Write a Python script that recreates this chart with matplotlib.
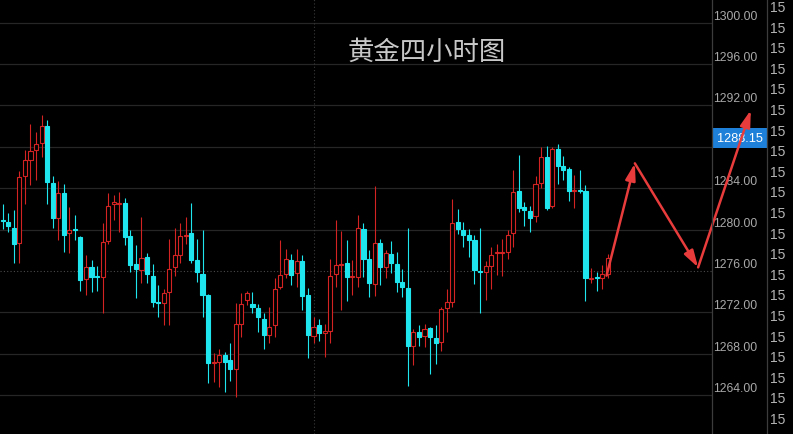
import matplotlib
matplotlib.use("Agg")
import matplotlib.pyplot as plt
import matplotlib.transforms as mtransforms
from matplotlib.patches import Rectangle

plt.rcParams["font.family"] = ["Noto Sans CJK SC", "DejaVu Sans"]

# 4-hour gold candles
opens = [1280.9, 1280.7, 1280.2, 1278.7, 1285.2, 1286.7, 1287.7, 1288.4, 1290.0, 1284.5,
         1281.1, 1283.5, 1279.7, 1280.1, 1279.3, 1275.2, 1276.4, 1275.5, 1275.4, 1278.9,
         1282.5, 1282.5, 1282.6, 1279.4, 1276.7, 1276.1, 1277.4, 1275.5, 1273.0, 1272.9,
         1274.0, 1276.4, 1277.5, 1279.4, 1279.7, 1277.1, 1275.7, 1273.7, 1267.1, 1267.2,
         1267.9, 1267.4, 1266.5, 1270.9, 1273.2, 1272.8, 1272.4, 1271.4, 1269.8, 1270.8,
         1274.5, 1275.7, 1277.1, 1275.8, 1277.0, 1273.7, 1269.7, 1270.8, 1270.0, 1270.2,
         1275.7, 1276.6, 1276.8, 1275.4, 1275.4, 1280.1, 1277.2, 1274.7, 1278.7, 1276.4,
         1277.6, 1276.7, 1274.9, 1274.4, 1268.8, 1270.1, 1269.7, 1270.5, 1269.5, 1269.1,
         1272.4, 1273.0, 1280.7, 1280.0, 1279.5, 1279.0, 1276.0, 1275.9, 1276.5, 1277.7,
         1277.7, 1277.8, 1279.7, 1283.7, 1282.2, 1281.8, 1281.3, 1284.5, 1287.0, 1282.3,
         1287.8, 1286.1, 1285.9, 1283.7, 1283.8, 1283.7, 1275.2, 1275.4, 1275.3, 1275.7]
highs = [1282.5, 1281.6, 1281.9, 1285.7, 1287.7, 1290.2, 1289.4, 1291.1, 1290.6, 1285.2,
         1284.7, 1284.4, 1282.2, 1281.4, 1279.4, 1277.5, 1277.1, 1276.5, 1280.6, 1283.5,
         1283.3, 1283.6, 1283.1, 1280.0, 1278.5, 1281.2, 1277.7, 1276.7, 1274.6, 1274.3,
         1279.1, 1280.2, 1280.6, 1281.2, 1282.6, 1279.1, 1280.0, 1273.8, 1268.1, 1268.5,
         1268.2, 1269.0, 1272.9, 1273.9, 1274.1, 1274.0, 1272.8, 1271.9, 1272.5, 1275.3,
         1279.0, 1278.1, 1277.6, 1278.1, 1277.5, 1274.4, 1271.6, 1271.4, 1270.9, 1277.2,
         1280.9, 1279.9, 1279.0, 1277.1, 1281.4, 1280.6, 1278.0, 1284.2, 1279.1, 1278.0,
         1278.9, 1277.8, 1276.2, 1280.2, 1270.4, 1270.8, 1270.9, 1270.6, 1270.8, 1272.5,
         1274.3, 1283.0, 1282.0, 1280.7, 1280.1, 1279.5, 1280.2, 1277.0, 1278.3, 1278.6,
         1279.1, 1280.0, 1285.8, 1287.2, 1282.7, 1282.3, 1285.2, 1288.0, 1288.1, 1288.0,
         1288.3, 1287.1, 1286.0, 1285.3, 1285.8, 1284.3, 1276.3, 1275.9, 1276.6, 1277.6]
lows = [1280.1, 1279.8, 1276.8, 1276.8, 1282.5, 1284.3, 1284.8, 1287.0, 1282.5, 1280.2,
        1279.0, 1277.8, 1277.7, 1279.0, 1274.1, 1273.7, 1274.0, 1274.1, 1271.9, 1278.6,
        1280.9, 1279.8, 1278.5, 1275.9, 1273.4, 1274.8, 1274.8, 1272.5, 1271.6, 1270.8,
        1270.8, 1275.5, 1276.8, 1278.6, 1276.8, 1274.9, 1271.6, 1265.2, 1265.3, 1264.8,
        1264.3, 1265.4, 1263.8, 1269.6, 1272.7, 1271.9, 1270.1, 1268.5, 1269.0, 1269.6,
        1274.3, 1275.3, 1274.6, 1274.5, 1272.2, 1267.6, 1269.0, 1269.2, 1267.7, 1269.0,
        1274.5, 1272.2, 1273.1, 1273.7, 1274.5, 1275.4, 1273.5, 1273.6, 1274.6, 1275.3,
        1275.8, 1274.0, 1273.5, 1264.9, 1266.9, 1268.8, 1268.7, 1266.0, 1267.0, 1268.3,
        1270.1, 1272.5, 1279.6, 1278.3, 1277.4, 1274.7, 1271.9, 1273.2, 1274.3, 1275.6,
        1275.5, 1277.2, 1278.3, 1281.7, 1280.3, 1279.8, 1280.7, 1284.0, 1281.9, 1282.1,
        1284.4, 1284.8, 1282.8, 1282.1, 1283.5, 1273.1, 1274.8, 1274.1, 1274.3, 1275.3]
closes = [1280.8, 1280.3, 1278.6, 1285.1, 1286.7, 1287.6, 1288.3, 1290.0, 1284.6, 1281.1,
          1283.5, 1279.5, 1280.0, 1280.0, 1275.1, 1276.4, 1275.4, 1275.4, 1278.8, 1282.3,
          1282.7, 1282.6, 1279.3, 1276.6, 1276.2, 1277.3, 1275.7, 1273.0, 1272.9, 1273.9,
          1276.2, 1277.5, 1279.4, 1279.5, 1277.1, 1275.9, 1273.7, 1267.1, 1267.2, 1267.9,
          1267.2, 1266.5, 1270.9, 1272.8, 1273.9, 1272.5, 1271.6, 1269.8, 1270.6, 1274.3,
          1275.6, 1277.2, 1275.6, 1277.0, 1273.6, 1269.8, 1270.6, 1270.0, 1270.2, 1275.5,
          1276.6, 1276.7, 1275.4, 1275.5, 1280.2, 1277.2, 1274.8, 1278.7, 1276.4, 1277.7,
          1276.8, 1274.9, 1274.5, 1268.8, 1270.1, 1269.6, 1270.4, 1269.6, 1269.0, 1272.3,
          1273.0, 1280.6, 1280.1, 1279.5, 1279.0, 1276.1, 1275.9, 1276.5, 1277.5, 1277.8,
          1277.8, 1279.5, 1283.6, 1282.1, 1281.9, 1281.1, 1284.4, 1287.0, 1282.1, 1287.8,
          1286.1, 1285.8, 1283.7, 1283.8, 1283.7, 1275.3, 1275.3, 1275.3, 1275.7, 1277.3]

price_ticks = [1300, 1296, 1292, 1284, 1280, 1276, 1272, 1268, 1264]
grid_levels = [1300, 1296, 1292, 1288, 1284, 1280, 1276, 1272, 1268, 1264]
marker_price = 1288.15
side_labels = ["15"] * 21

# forecast path drawn by hand: (bar index, price)
path_x = [108.8, 113.9, 125.3, 134.8]
path_y = [1275.55, 1286.4, 1276.35, 1291.55]

RED = "#d42323"
CYAN = "#1fe6ee"
ARROW = "#e83c3c"

fig = plt.figure(figsize=(7.93, 4.35), dpi=100)
fig.patch.set_facecolor("black")
ax = fig.add_axes([0, 0, 712 / 793, 1])
ax.set_facecolor("black")
ax.set_xlim(-0.49, 127.8)
ax.set_ylim(1260.25, 1302.28)
ax.axis("off")

for g in grid_levels:
    if g == 1276:
        ax.axhline(g, color="#4a4a4a", lw=0.8, ls=(0, (1, 2)), zorder=0)
    else:
        ax.axhline(g, color="#262626", lw=0.9, zorder=0)
ax.axvline(56.1, color="#3a3a3a", lw=0.8, ls=(0, (1, 2)), zorder=0)

w = 0.74
for i in range(len(opens)):
    o, h, l, c = opens[i], highs[i], lows[i], closes[i]
    col = RED if c > o else CYAN
    ax.vlines(i, l, h, color=col, lw=0.8, zorder=2)
    bottom = min(o, c)
    height = max(abs(c - o), 0.08)
    face = "black" if c > o else CYAN
    ax.add_patch(Rectangle((i - w / 2, bottom), w, height, facecolor=face,
                           edgecolor=col, lw=0.8, zorder=3))

# arrows
for k in range(3):
    ax.annotate("", xy=(path_x[k + 1], path_y[k + 1]), xytext=(path_x[k], path_y[k]),
                arrowprops=dict(arrowstyle="-|>,head_length=1.0,head_width=0.3",
                                color=ARROW, lw=1.8, shrinkA=0, shrinkB=0),
                annotation_clip=False, zorder=10)

fig.text(427 / 793, 1 - 52 / 435, "黄金四小时图", ha="center", va="center",
         fontsize=19, color="#c8c8c8")

# right price axis
fig.add_artist(plt.Line2D([712 / 793, 712 / 793], [0, 1], color="#3c3c3c", lw=0.9))
fig.add_artist(plt.Line2D([767 / 793, 767 / 793], [0, 1], color="#3c3c3c", lw=0.9))
trans = mtransforms.blended_transform_factory(fig.transFigure, ax.transData)
for t in price_ticks:
    ax.text(713 / 793, t + 0.68, "%.2f" % t, transform=trans, ha="left", va="center",
            fontsize=8.8, color="#a8a8a8", family="Liberation Sans", clip_on=False)

ax.text(739.5 / 793, marker_price + 0.7, "%.2f" % marker_price, transform=trans,
        ha="center", va="center", fontsize=9.2, color="white", family="Liberation Sans",
        bbox=dict(boxstyle="square,pad=0.35", fc="#1e80d8", ec="none"), zorder=5)

for k, s in enumerate(side_labels):
    fig.text(770 / 793, 1 - (8 + 20.6 * k) / 435, s, ha="left", va="center",
             fontsize=10, color="#b4b4b4", family="Liberation Sans")

fig.savefig("out.png", dpi=100, facecolor="black")
